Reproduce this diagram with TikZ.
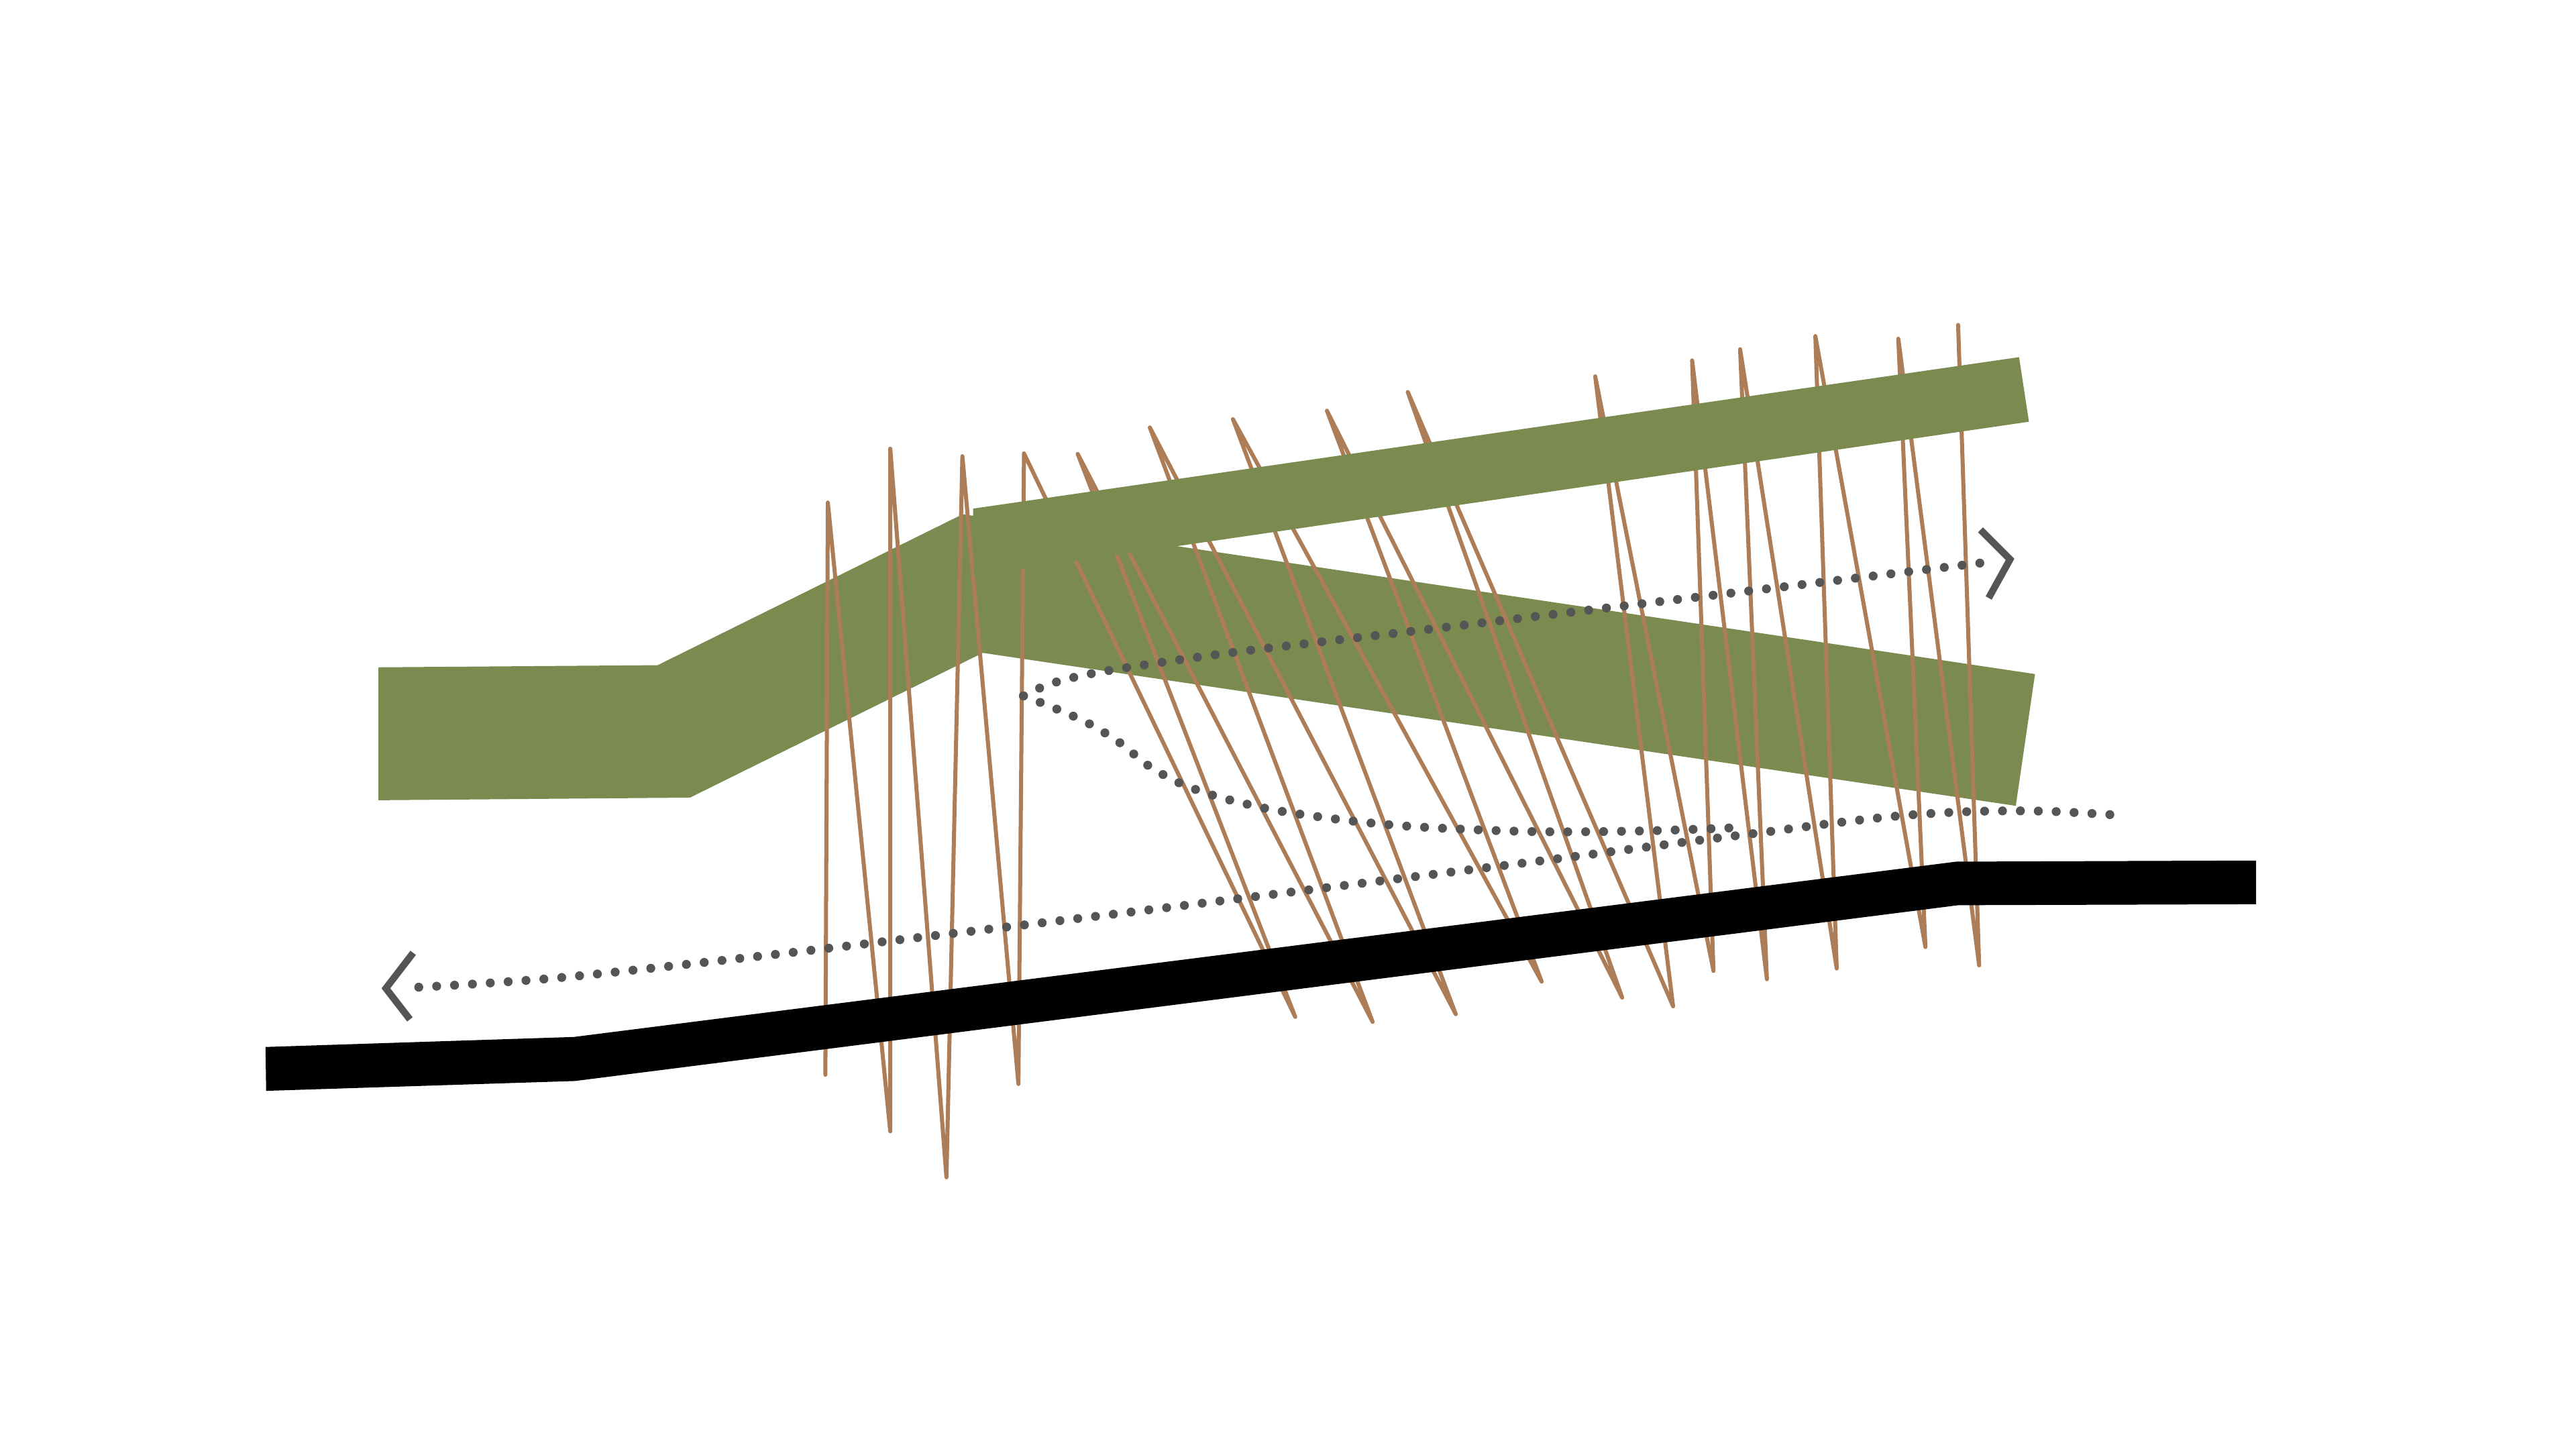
\documentclass[tikz,border=0pt]{standalone}
\definecolor{leaf}{RGB}{123,139,79}
\definecolor{rod}{RGB}{173,125,87}
\definecolor{trail}{RGB}{85,85,85}
\begin{document}
\begin{tikzpicture}[x=0.01cm,y=-0.01cm,
  greenfill/.style={fill=leaf, draw=none},
  pole/.style={draw=rod, line width=0.7pt, line cap=round, line join=round},
  route/.style={draw=trail, line width=1.55pt, line cap=round, dash pattern=on 0pt off 3.1pt},
  chevron/.style={draw=trail, line width=1.2pt, line join=miter, line cap=butt}]
\useasboundingbox (0,0) rectangle (1568,882);
\fill[white] (0,0) rectangle (1568,882);

% ramp + lower branch (behind the rods)
\fill[greenfill] (230.4,406.2) -- (400.3,404.9) -- (586,313) -- (1238.7,410.3)
  -- (1227,490.5) -- (598.2,397.4) -- (420,485.5) -- (230.4,487.1) -- cycle;

% zig-zag rods
\draw[pole] (502.4,654.2) -- (503.9,305.9) -- (541.9,688.6) -- (541.9,273.1)
  -- (576.1,716.6) -- (585.8,277.7) -- (619.9,659.8) -- (623.3,276)
  -- (788.4,619) -- (656,276.3) -- (835.5,622) -- (699.9,260.2)
  -- (886.1,617.3) -- (750.5,255.2) -- (938.4,597.5) -- (807.7,250)
  -- (987.4,607.2) -- (856.9,238.6) -- (1018.4,612.5) -- (971,229.1)
  -- (1043,591) -- (1030,219.4) -- (1075.5,596) -- (1059.2,212.6)
  -- (1118,589.5) -- (1105,204.6) -- (1172,576.4) -- (1155.5,206.2)
  -- (1204.7,587.6) -- (1191.9,197.8);

% upper branch (in front of the rods)
\fill[greenfill] (592.3,309.6) -- (1229,217.4) -- (1235,256.7) -- (593,350.5) -- cycle;

% black ground band
\fill[black] (161.6,637.3) -- (349.3,631.2) -- (1190.7,524.5) -- (1373.3,523.8)
  -- (1373.3,550.4) -- (1192,551) -- (350,658) -- (162,664) -- cycle;

% dotted routes
\draw[route] plot[smooth, tension=0.55] coordinates {(623,423.6) (640.8,415.8)
  (672.9,408.5) (748.5,397.4) (857.4,384.5) (987.7,368.9) (1096.4,355.9) (1205.5,342.7)};
\draw[route] plot[smooth, tension=0.55] coordinates {(623,423.6) (643.2,431.6)
  (663.1,440.6) (681.8,452.2) (698.8,465.9) (718.1,476.7) (738.4,484.1) (759.5,489.6)
  (781,494) (824.3,499.9) (868,503.6) (933.7,506.2) (999.3,505.8) (1054,503.9)};
\draw[route] plot[smooth, tension=0.55] coordinates {(254.9,600.9) (298.6,598.3)
  (353.3,593.9) (462.7,582) (571.4,569.2) (680,556.2) (766.8,545.4) (854,534.5)
  (941,523.6) (1027.7,512.3) (1071.3,506.9) (1114.9,501.2) (1158.4,496.4)
  (1202,493.9) (1245.4,493.8) (1289.5,496.2)};

% arrow heads
\coordinate (rtop) at (1205.5,322.5);
\coordinate (rtip) at (1223.5,340.5);
\coordinate (rbot) at (1210.5,364);
\draw[chevron] (rtop) -- (rtip) -- (rbot);
\coordinate (ltop) at (251.5,580);
\coordinate (ltip) at (234.9,601.6);
\coordinate (lbot) at (249.5,620.5);
\draw[chevron] (ltop) -- (ltip) -- (lbot);
\end{tikzpicture}
\end{document}
